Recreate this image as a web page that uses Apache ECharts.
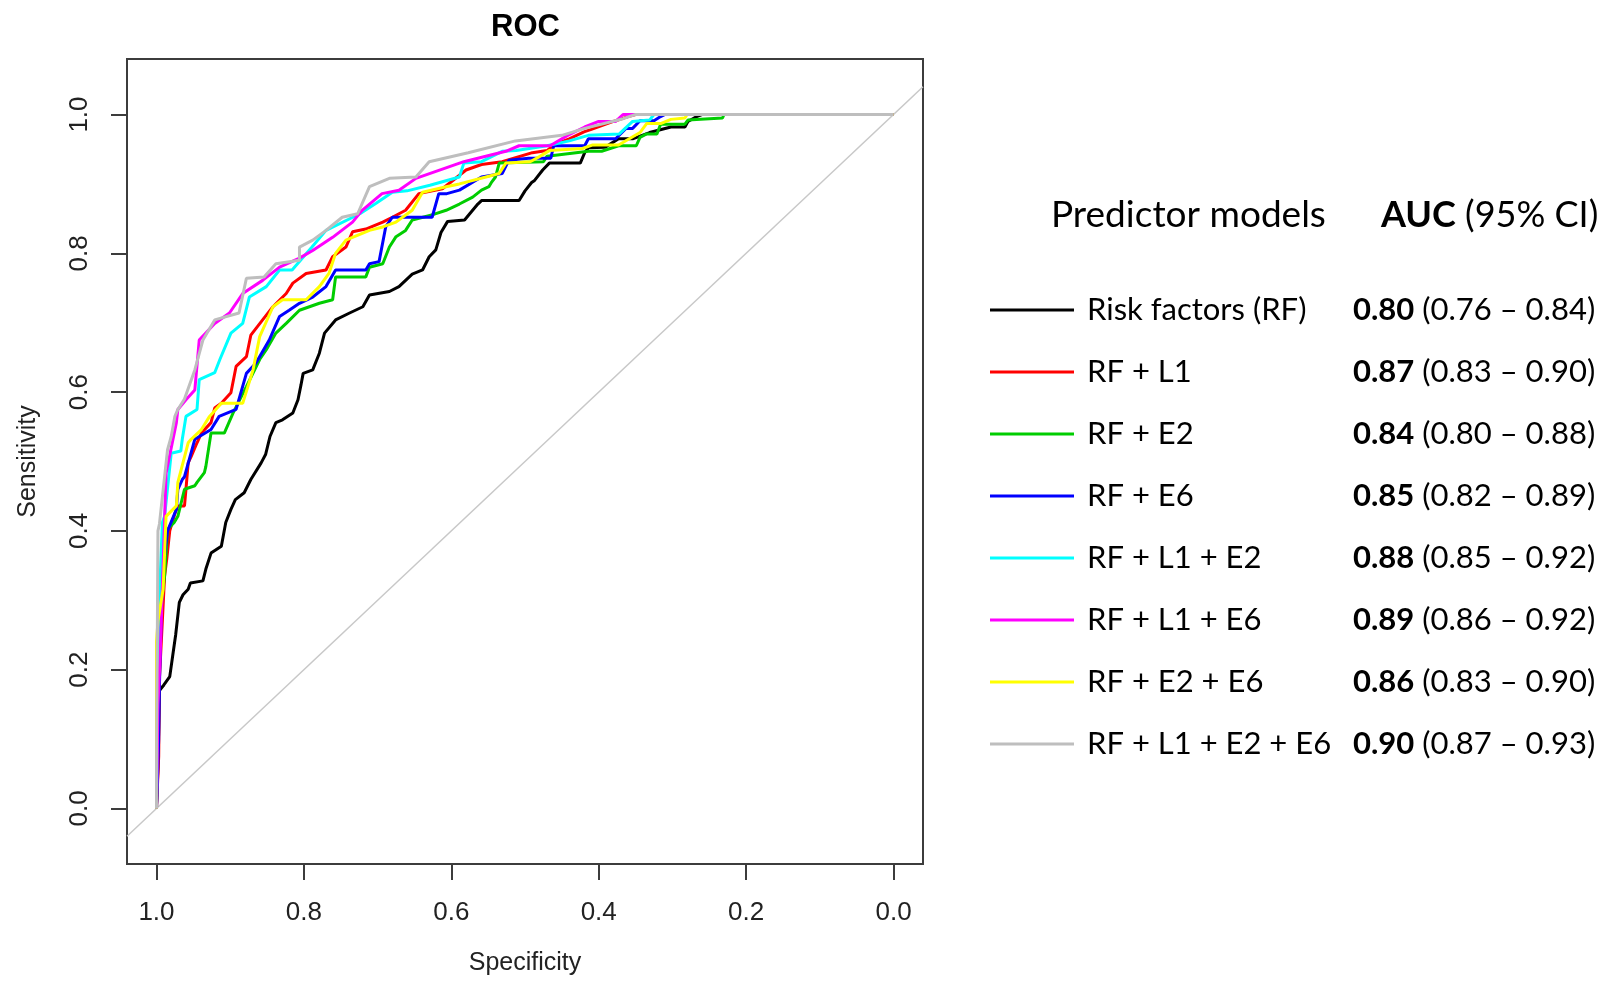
<!DOCTYPE html>
<html lang="en">
<head>
<meta charset="UTF-8">
<title>ROC</title>
<script src="https://cdn.jsdelivr.net/npm/echarts@6/dist/echarts.min.js"></script>
<style>
  html, body { margin: 0; padding: 0; background: #fff; }
  #main { width: 1604px; height: 981px; }
</style>
</head>
<body>
<div id="main"></div>
<script type="text/javascript">
// model names, colours and AUC (95% CI) from the legend
var modelNames = ['Risk factors (RF)', 'RF + L1', 'RF + E2', 'RF + E6',
                  'RF + L1 + E2', 'RF + L1 + E6', 'RF + E2 + E6', 'RF + L1 + E2 + E6'];
var modelColors = ['#000000', '#ff0000', '#00cd00', '#0000ff',
                   '#00ffff', '#ff00ff', '#ffff00', '#bebebe'];
var aucValues = ['0.80', '0.87', '0.84', '0.85', '0.88', '0.89', '0.86', '0.90'];
var aucLow    = ['0.76', '0.83', '0.80', '0.82', '0.85', '0.86', '0.83', '0.87'];
var aucHigh   = ['0.84', '0.90', '0.88', '0.89', '0.92', '0.92', '0.90', '0.93'];

var axisTicks = [0, 0.2, 0.4, 0.6, 0.8, 1.0];

// chance line, sensitivity = 1 - specificity, across the plot range
var chanceLine = [[1.04, -0.04], [-0.04, 1.04]];

// ROC curves, [specificity, sensitivity]
var rocRF = [[1,0],[0.998,0.06],[0.996,0.17],[0.99,0.178],[0.982,0.19],[0.978,0.22],[0.974,0.25],
  [0.969,0.297],[0.964,0.308],[0.957,0.316],[0.954,0.325],[0.937,0.328],[0.933,0.345],[0.926,0.368],
  [0.912,0.378],[0.906,0.412],[0.899,0.431],[0.893,0.445],[0.881,0.455],[0.872,0.474],[0.858,0.498],
  [0.852,0.51],[0.846,0.536],[0.838,0.556],[0.829,0.56],[0.815,0.57],[0.808,0.589],[0.804,0.61],
  [0.801,0.627],[0.788,0.632],[0.779,0.656],[0.772,0.685],[0.757,0.704],[0.738,0.714],[0.72,0.723],
  [0.711,0.74],[0.684,0.745],[0.671,0.752],[0.653,0.77],[0.639,0.776],[0.63,0.795],[0.621,0.805],
  [0.614,0.83],[0.605,0.846],[0.582,0.848],[0.575,0.857],[0.564,0.871],[0.559,0.876],[0.508,0.876],
  [0.5,0.89],[0.491,0.902],[0.487,0.905],[0.476,0.92],[0.467,0.93],[0.425,0.93],[0.419,0.945],
  [0.414,0.952],[0.391,0.953],[0.373,0.965],[0.354,0.965],[0.331,0.974],[0.302,0.982],[0.283,0.982],
  [0.279,0.99],[0.267,0.997],[0.26,1],[0,1]];
var rocL1 = [[1,0],[0.997,0.075],[0.996,0.187],[0.993,0.25],[0.989,0.335],[0.986,0.36],[0.982,0.4],
  [0.975,0.425],[0.971,0.436],[0.962,0.436],[0.96,0.46],[0.957,0.498],[0.953,0.507],[0.945,0.527],
  [0.939,0.541],[0.926,0.556],[0.921,0.577],[0.912,0.584],[0.899,0.599],[0.892,0.637],[0.878,0.651],
  [0.872,0.682],[0.856,0.704],[0.842,0.723],[0.824,0.742],[0.815,0.757],[0.797,0.771],[0.77,0.776],
  [0.761,0.795],[0.743,0.809],[0.734,0.831],[0.716,0.835],[0.693,0.845],[0.68,0.852],[0.662,0.862],
  [0.644,0.886],[0.612,0.893],[0.58,0.92],[0.559,0.928],[0.531,0.932],[0.49,0.945],[0.47,0.948],
  [0.46,0.957],[0.44,0.965],[0.42,0.975],[0.409,0.979],[0.38,0.99],[0.36,0.997],[0.35,1],[0,1]];
var rocE2 = [[1,0],[0.998,0.2],[0.994,0.292],[0.989,0.335],[0.985,0.402],[0.976,0.412],[0.971,0.421],
  [0.962,0.46],[0.948,0.465],[0.945,0.47],[0.935,0.484],[0.933,0.493],[0.926,0.541],[0.908,0.541],
  [0.896,0.57],[0.878,0.608],[0.86,0.647],[0.851,0.661],[0.838,0.685],[0.824,0.699],[0.806,0.718],
  [0.779,0.728],[0.761,0.733],[0.757,0.766],[0.716,0.766],[0.711,0.78],[0.693,0.785],[0.684,0.809],
  [0.675,0.824],[0.662,0.833],[0.653,0.848],[0.624,0.856],[0.607,0.862],[0.589,0.871],[0.571,0.881],
  [0.559,0.891],[0.549,0.896],[0.545,0.903],[0.54,0.91],[0.535,0.93],[0.475,0.932],[0.47,0.94],
  [0.414,0.947],[0.396,0.947],[0.373,0.955],[0.349,0.955],[0.344,0.967],[0.335,0.972],[0.321,0.972],
  [0.316,0.986],[0.283,0.986],[0.279,0.992],[0.232,0.995],[0.23,1],[0,1]];
var rocE6 = [[1,0],[0.997,0.1],[0.996,0.177],[0.992,0.34],[0.985,0.4],[0.973,0.431],[0.971,0.46],
  [0.965,0.474],[0.962,0.478],[0.948,0.532],[0.926,0.546],[0.915,0.565],[0.892,0.575],[0.878,0.627],
  [0.865,0.642],[0.847,0.675],[0.833,0.709],[0.82,0.718],[0.806,0.728],[0.788,0.737],[0.77,0.752],
  [0.757,0.776],[0.716,0.776],[0.711,0.785],[0.698,0.788],[0.689,0.838],[0.68,0.852],[0.626,0.852],
  [0.617,0.886],[0.606,0.886],[0.589,0.891],[0.567,0.905],[0.559,0.91],[0.531,0.915],[0.522,0.934],
  [0.495,0.937],[0.465,0.937],[0.461,0.955],[0.419,0.955],[0.414,0.965],[0.377,0.965],[0.363,0.98],
  [0.354,0.98],[0.344,0.991],[0.325,0.991],[0.316,0.997],[0.31,1],[0,1]];
var rocL1E2 = [[1,0],[0.998,0.2],[0.996,0.306],[0.992,0.412],[0.989,0.421],[0.98,0.512],[0.967,0.515],
  [0.965,0.532],[0.96,0.565],[0.945,0.575],[0.942,0.618],[0.921,0.628],[0.914,0.647],[0.899,0.685],
  [0.883,0.699],[0.874,0.737],[0.851,0.752],[0.833,0.776],[0.816,0.776],[0.789,0.809],[0.77,0.833],
  [0.724,0.857],[0.702,0.872],[0.68,0.888],[0.66,0.89],[0.629,0.898],[0.589,0.91],[0.583,0.93],
  [0.559,0.932],[0.531,0.947],[0.512,0.948],[0.47,0.955],[0.44,0.962],[0.414,0.97],[0.372,0.972],
  [0.354,0.99],[0.331,0.992],[0.325,1],[0,1]];
var rocL1E6 = [[1,0],[0.998,0.15],[0.995,0.22],[0.987,0.483],[0.985,0.484],[0.973,0.556],[0.971,0.575],
  [0.96,0.589],[0.948,0.603],[0.942,0.675],[0.921,0.699],[0.901,0.714],[0.883,0.742],[0.856,0.761],
  [0.833,0.78],[0.806,0.793],[0.788,0.804],[0.761,0.823],[0.734,0.845],[0.721,0.862],[0.694,0.886],
  [0.671,0.891],[0.648,0.908],[0.583,0.932],[0.526,0.947],[0.508,0.955],[0.466,0.955],[0.442,0.97],
  [0.419,0.982],[0.4,0.99],[0.377,0.99],[0.367,1],[0,1]];
var rocE2E6 = [[1,0],[1,0.24],[0.998,0.27],[0.991,0.316],[0.987,0.421],[0.973,0.436],[0.971,0.47],
  [0.957,0.527],[0.953,0.532],[0.939,0.546],[0.928,0.565],[0.912,0.584],[0.883,0.584],[0.869,0.632],
  [0.86,0.68],[0.842,0.723],[0.829,0.733],[0.797,0.733],[0.779,0.752],[0.766,0.771],[0.757,0.8],
  [0.743,0.819],[0.711,0.833],[0.693,0.838],[0.675,0.845],[0.653,0.862],[0.639,0.888],[0.607,0.896],
  [0.589,0.9],[0.553,0.91],[0.535,0.915],[0.526,0.93],[0.493,0.932],[0.481,0.939],[0.467,0.948],
  [0.422,0.951],[0.409,0.956],[0.373,0.956],[0.344,0.974],[0.335,0.987],[0.316,0.987],[0.302,0.993],
  [0.283,0.995],[0.28,1],[0,1]];
var rocAll = [[1,0],[1,0.053],[0.998,0.4],[0.996,0.41],[0.985,0.517],[0.98,0.536],[0.975,0.565],
  [0.971,0.575],[0.962,0.59],[0.948,0.632],[0.937,0.675],[0.921,0.704],[0.888,0.714],[0.878,0.764],
  [0.854,0.766],[0.838,0.785],[0.806,0.79],[0.806,0.809],[0.788,0.819],[0.77,0.833],[0.748,0.852],
  [0.727,0.857],[0.711,0.896],[0.684,0.908],[0.648,0.91],[0.63,0.932],[0.577,0.945],[0.513,0.962],
  [0.45,0.97],[0.419,0.98],[0.367,0.994],[0.35,1],[0,1]];

var rocCurves = [rocRF, rocL1, rocE2, rocE6, rocL1E2, rocL1E6, rocE2E6, rocAll];

var axisFont = 'Liberation Sans, Arial, sans-serif';
var legendFont = 'Lato, Noto Sans, sans-serif';
var boxColor = '#3c3c3c';

var myChart = echarts.init(document.getElementById('main'), null, { renderer: 'canvas' });

var series = [{
    name: 'chance',
    type: 'line',
    data: chanceLine,
    symbol: 'none',
    silent: true,
    lineStyle: { color: '#c8c8c8', width: 1.5 },
    z: 1
}];
for (var i = 0; i < modelNames.length; i++) {
    series.push({
        name: modelNames[i],
        type: 'line',
        data: rocCurves[i],
        symbol: 'none',
        color: modelColors[i],
        itemStyle: { color: modelColors[i] },
        lineStyle: { color: modelColors[i], width: 3 },
        z: 2 + i
    });
}

myChart.setOption({
    animation: false,
    title: {
        text: 'ROC',
        left: 491,
        top: 12,
        padding: 0,
        textStyle: { fontFamily: axisFont, fontWeight: 'bold', fontSize: 31, color: '#000' }
    },
    grid: {
        left: 127, right: 681, top: 59, bottom: 116,
        show: true, borderColor: boxColor, borderWidth: 2, backgroundColor: 'transparent'
    },
    xAxis: {
        type: 'value',
        inverse: true,
        min: -0.04,
        max: 1.04,
        splitLine: { show: false },
        axisLine: { show: false, onZero: false },
        axisTick: { show: true, customValues: axisTicks, length: 16, lineStyle: { color: boxColor, width: 2 } },
        axisLabel: {
            customValues: axisTicks,
            margin: 36,
            fontFamily: axisFont, fontSize: 26, color: '#222',
            formatter: function (v) { return v.toFixed(1); }
        },
        name: 'Specificity',
        nameLocation: 'middle',
        nameGap: 87,
        nameTextStyle: { fontFamily: axisFont, fontSize: 25, color: '#222' }
    },
    yAxis: {
        type: 'value',
        min: -0.08,
        max: 1.08,
        splitLine: { show: false },
        axisLine: { show: false, onZero: false },
        axisTick: { show: true, customValues: axisTicks, length: 16, lineStyle: { color: boxColor, width: 2 } },
        axisLabel: {
            customValues: axisTicks,
            rotate: 90,
            margin: 34,
            fontFamily: axisFont, fontSize: 26, color: '#222',
            formatter: function (v) { return v.toFixed(1); }
        },
        name: 'Sensitivity',
        nameLocation: 'middle',
        nameRotate: 90,
        nameGap: 86,
        nameTextStyle: { fontFamily: axisFont, fontSize: 25, color: '#222' }
    },
    legend: {
        data: modelNames,
        orient: 'vertical',
        left: 985,
        top: 285,
        padding: 5,
        itemGap: 22,
        itemWidth: 84,
        itemHeight: 3,
        icon: 'rect',
        selectedMode: false,
        textStyle: {
            fontFamily: legendFont, fontSize: 31, color: '#000', lineHeight: 40,
            rich: {
                n: { fontFamily: legendFont, fontSize: 31, color: '#000', width: 266, padding: [0, 0, 0, 8], lineHeight: 40 },
                a: { fontFamily: legendFont, fontSize: 31, fontWeight: 'bold', color: '#000', lineHeight: 40 },
                c: { fontFamily: legendFont, fontSize: 31, color: '#000', lineHeight: 40 }
            }
        },
        formatter: function (name) {
            var k = modelNames.indexOf(name);
            return '{n|' + name + '}{a|' + aucValues[k] + '}{c| (' + aucLow[k] + ' \u2013 ' + aucHigh[k] + ')}';
        }
    },
    graphic: [{
        type: 'text',
        left: 1051,
        top: 197,
        style: { text: 'Predictor models', font: '37px ' + legendFont, fill: '#000' }
    }, {
        type: 'text',
        left: 1381,
        top: 197,
        style: {
            text: '{b|AUC}{r| (95% CI)}',
            rich: {
                b: { fontFamily: legendFont, fontSize: 36, fontWeight: 'bold', fill: '#000' },
                r: { fontFamily: legendFont, fontSize: 36, fill: '#000' }
            }
        }
    }],
    series: series
});

window.addEventListener('resize', function () {
    myChart.resize();
});
</script>
</body>
</html>
